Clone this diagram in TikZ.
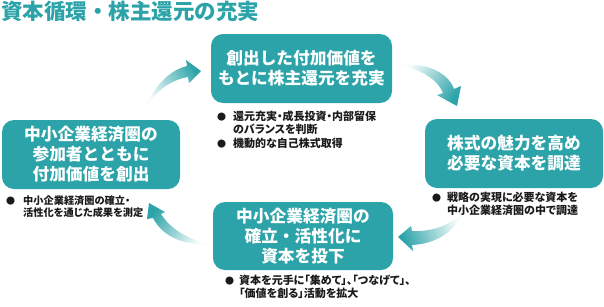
\documentclass[tikz,border=0pt]{standalone}
\usepackage{fontspec}
\setmainfont{Noto Sans CJK JP}
\newfontfamily\notefont[RawFeature=+palt]{Noto Sans CJK JP}
\definecolor{tealc}{HTML}{2BA3A8}
\definecolor{txt}{HTML}{1A1A1A}
\begin{document}
\begin{tikzpicture}[x=1pt,y=-1pt,
  box/.style={fill=tealc, rounded corners=12pt, minimum height=69pt, text=white,
    font=\fontsize{16.7}{20}\selectfont\bfseries, align=center, inner sep=0pt},
  notes/.style={anchor=north west, inner sep=0pt, text=txt,
    font=\notefont\fontsize{11}{12.6}\selectfont\bfseries, align=left},
  flow/.style={top color=tealc, bottom color=tealc!4}]
\useasboundingbox (0,0) rectangle (604,306);
\newcommand{\bul}{{\fontsize{9}{8}\selectfont ●}}

\node[anchor=west, inner sep=0pt, text=tealc, font=\fontsize{21.5}{24}\selectfont\bfseries] (title) at (1,11) {資本循環・株主還元の充実};

\node[box, minimum width=181pt] (top) at (301.5,68.5) {創出した付加価値を\\もとに株主還元を充実};
\node[box, minimum width=178pt] (right) at (514,153.5) {株式の魅力を高め\\必要な資本を調達};
\node[box, minimum width=178pt] (left) at (91,154.5) {中小企業経済圏の\\参加者とともに\\付加価値を創出};
\node[box, minimum width=180pt, minimum height=68pt] (bottom) at (303,236) {中小企業経済圏の\\確立・活性化に\\資本を投下};

\node[notes] (ntop) at (217,111) {\begin{tabular}{@{}l@{\hspace{7pt}}l@{}}\bul & 還元充実・成長投資・内部留保\\ & のバランスを判断\\ \bul & 機動的な自己株式取得\end{tabular}};
\node[notes] (nright) at (432,192) {\begin{tabular}{@{}l@{\hspace{6pt}}l@{}}\bul & 戦略の実現に必要な資本を\\ & 中小企業経済圏の中で調達\end{tabular}};
\node[notes, font=\notefont\fontsize{10.2}{12.6}\selectfont\bfseries] (nleft) at (6,195) {\begin{tabular}{@{}l@{\hspace{8pt}}l@{}}\bul & 中小企業経済圏の確立・\\ & 活性化を通じた成果を測定\end{tabular}};
\node[notes] (nbottom) at (225,275) {\begin{tabular}{@{}l@{\hspace{5pt}}l@{}}\bul & 資本を元手に「集めて」、「つなげて」、\\ & 「価値を創る」活動を拡大\end{tabular}};

% arrows
\coordinate (a1t) at (145,108); \coordinate (a1h) at (201,71);
\shade[flow, shading angle=-57] (a1t) .. controls (155,85) and (170,70) .. (187,66) -- (186,60) -- (a1h) -- (189,83) -- (188,77) .. controls (170,80) and (155,92) .. cycle;
\coordinate (a2t) at (400,65); \coordinate (a2h) at (457,106);
\shade[flow, shading angle=-126] (a2t) .. controls (425,62) and (448,72) .. (454,89) -- (461,86) -- (a2h) -- (437,95) -- (443,93) .. controls (438,80) and (422,70) .. cycle;
\coordinate (a3t) at (462,213); \coordinate (a3h) at (398,237);
\shade[flow, shading angle=110] (a3t) .. controls (455,232) and (435,244) .. (412,245) -- (413,251) -- (a3h) -- (411,226) -- (412,231) .. controls (430,232) and (450,226) .. cycle;
\coordinate (a4t) at (208,244); \coordinate (a4h) at (149,203);
\shade[flow, shading angle=55] (a4t) .. controls (180,245) and (162,235) .. (153,218) -- (147,219) -- (a4h) -- (165,212) -- (161,214) .. controls (170,228) and (185,238) .. cycle;
\end{tikzpicture}
\end{document}
